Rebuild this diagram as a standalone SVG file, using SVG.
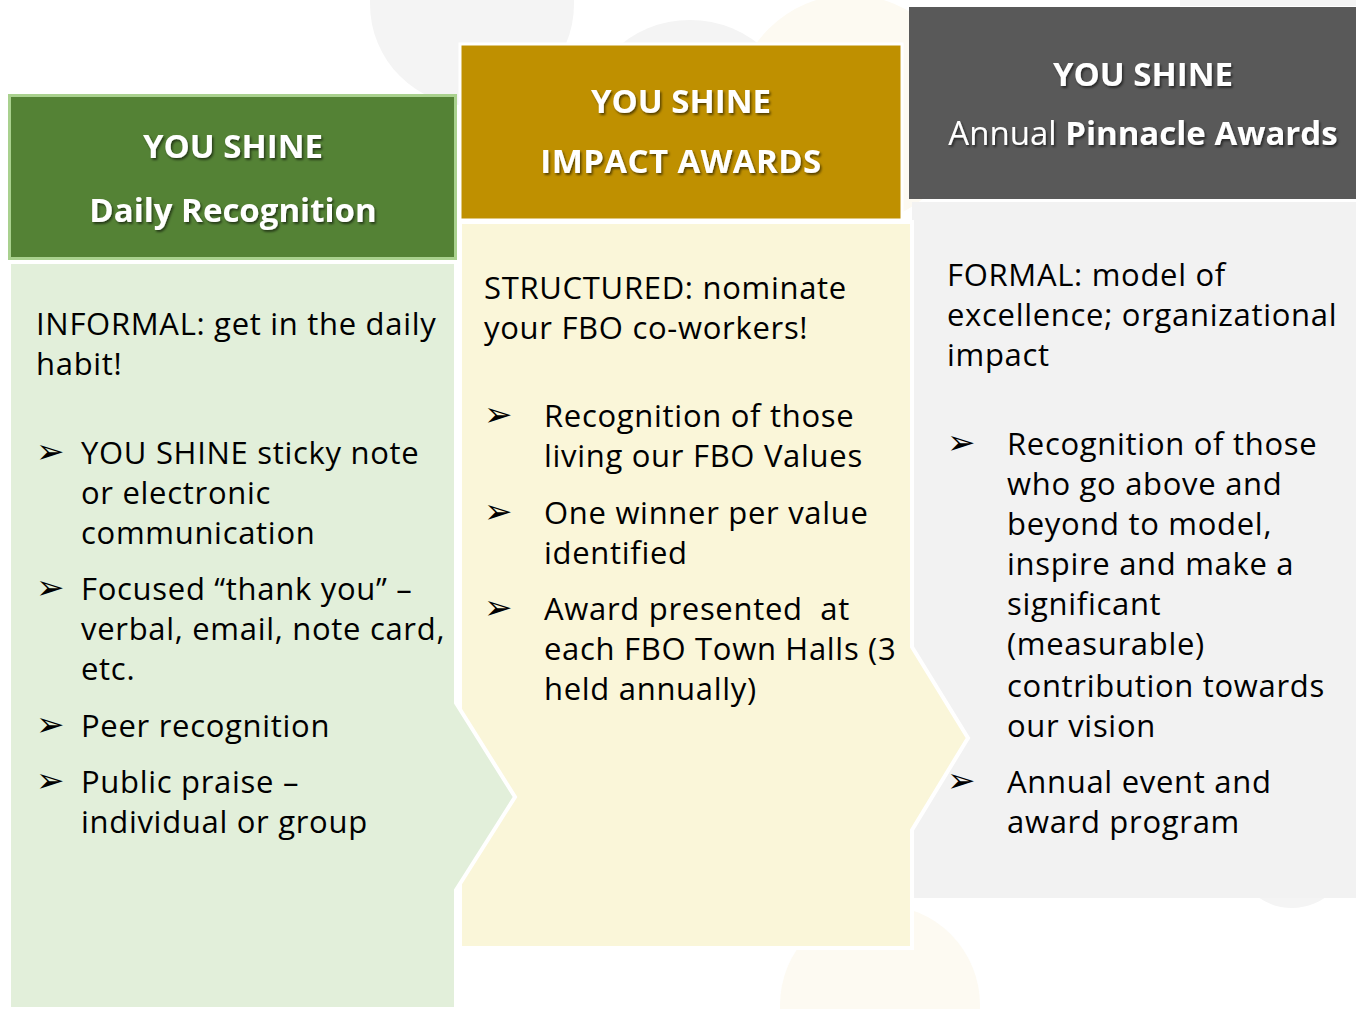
<svg xmlns="http://www.w3.org/2000/svg" width="1356" height="1009" viewBox="0 0 1356 1009">
<defs>
<filter id="sh" x="-10%" y="-30%" width="120%" height="160%">
<feDropShadow dx="1.5" dy="2" stdDeviation="1.2" flood-color="#000" flood-opacity="0.55"/>
</filter>
<style>
.hd{font-family:"Open Sans","Liberation Sans",sans-serif;font-weight:bold;font-size:33px;fill:#fff;text-anchor:middle;filter:url(#sh)}
.hr{font-weight:normal}
.tx{font-family:"Open Sans","Liberation Sans",sans-serif;font-size:31px;letter-spacing:0.7px;fill:#000}
.bl{font-family:"DejaVu Sans",sans-serif;font-size:34px;fill:#000}
.gap{stroke:#fff;stroke-width:4}
</style>
</defs>
<rect width="1356" height="1009" fill="#fff"/>
<g id="background">
<circle cx="472" cy="4" r="102" fill="#f4f4f4"/>
<circle cx="690" cy="130" r="110" fill="#f4f4f4"/>
<circle cx="850" cy="110" r="115" fill="#fdfaf2"/>
<rect x="1180" y="0" width="176" height="6" fill="#f4f4f4"/>
<circle cx="880" cy="1005" r="100" fill="#fdfaf2"/>
<circle cx="1292" cy="850" r="58" fill="#f4f4f4"/>
</g>
<g id="col3">
<path d="M912,202 H1356 V898 H912 Z" fill="#f2f2f2"/>
<rect x="909" y="7" width="447" height="192" fill="#595959"/>
<text class="hd" x="1143" y="86">YOU SHINE</text>
<text class="hd" x="1143" y="145"><tspan class="hr">Annual </tspan>Pinnacle Awards</text>
<g class="tx">
<text x="947" y="286">FORMAL: model of</text>
<text x="947" y="326">excellence; organizational</text>
<text x="947" y="366">impact</text>
<text x="1007" y="455">Recognition of those</text>
<text x="1007" y="495">who go above and</text>
<text x="1007" y="535">beyond to model,</text>
<text x="1007" y="575">inspire and make a</text>
<text x="1007" y="615">significant</text>
<text x="1007" y="655">(measurable)</text>
<text x="1007" y="697">contribution towards</text>
<text x="1007" y="737">our vision</text>
<text x="1007" y="793">Annual event and</text>
<text x="1007" y="833">award program</text>
</g>
<text class="bl" x="947" y="454">➢</text>
<text class="bl" x="947" y="792">➢</text>
</g>
<g id="col2">
<path class="gap" d="M460,222 H912 V647 L968,738 L912,830 V948 H460 Z" fill="#faf6d9"/>
<rect x="460" y="44" width="442" height="176" fill="#bf9000" stroke="#fff" stroke-width="3"/>
<text class="hd" x="681" y="113">YOU SHINE</text>
<text class="hd" x="681" y="173" letter-spacing="0.4">IMPACT AWARDS</text>
<g class="tx">
<text x="484" y="299">STRUCTURED: nominate</text>
<text x="484" y="339">your FBO co-workers!</text>
<text x="544" y="427">Recognition of those</text>
<text x="544" y="467">living our FBO Values</text>
<text x="544" y="524">One winner per value</text>
<text x="544" y="564">identified</text>
<text x="544" y="620" xml:space="preserve">Award presented  at</text>
<text x="544" y="660">each FBO Town Halls (3</text>
<text x="544" y="700">held annually)</text>
</g>
<text class="bl" x="484" y="426">➢</text>
<text class="bl" x="484" y="523">➢</text>
<text class="bl" x="484" y="619">➢</text>
</g>
<g id="col1">
<path class="gap" d="M9,262 H456 V703 L515,797 L456,890 V1009 H9 Z" fill="#e2efda"/>
<rect x="9.5" y="95.5" width="446" height="163" fill="#548235" stroke="#a9d18e" stroke-width="3"/>
<text class="hd" x="233" y="158">YOU SHINE</text>
<text class="hd" x="233" y="222">Daily Recognition</text>
<g class="tx">
<text x="36" y="335">INFORMAL: get in the daily</text>
<text x="36" y="375">habit!</text>
<text x="81" y="464">YOU SHINE sticky note</text>
<text x="81" y="504">or electronic</text>
<text x="81" y="544">communication</text>
<text x="81" y="600">Focused “thank you” –</text>
<text x="81" y="640">verbal, email, note card,</text>
<text x="81" y="680">etc.</text>
<text x="81" y="737">Peer recognition</text>
<text x="81" y="793">Public praise –</text>
<text x="81" y="833">individual or group</text>
</g>
<text class="bl" x="36" y="463">➢</text>
<text class="bl" x="36" y="599">➢</text>
<text class="bl" x="36" y="736">➢</text>
<text class="bl" x="36" y="792">➢</text>
</g>
<g id="connectors"/>
</svg>
